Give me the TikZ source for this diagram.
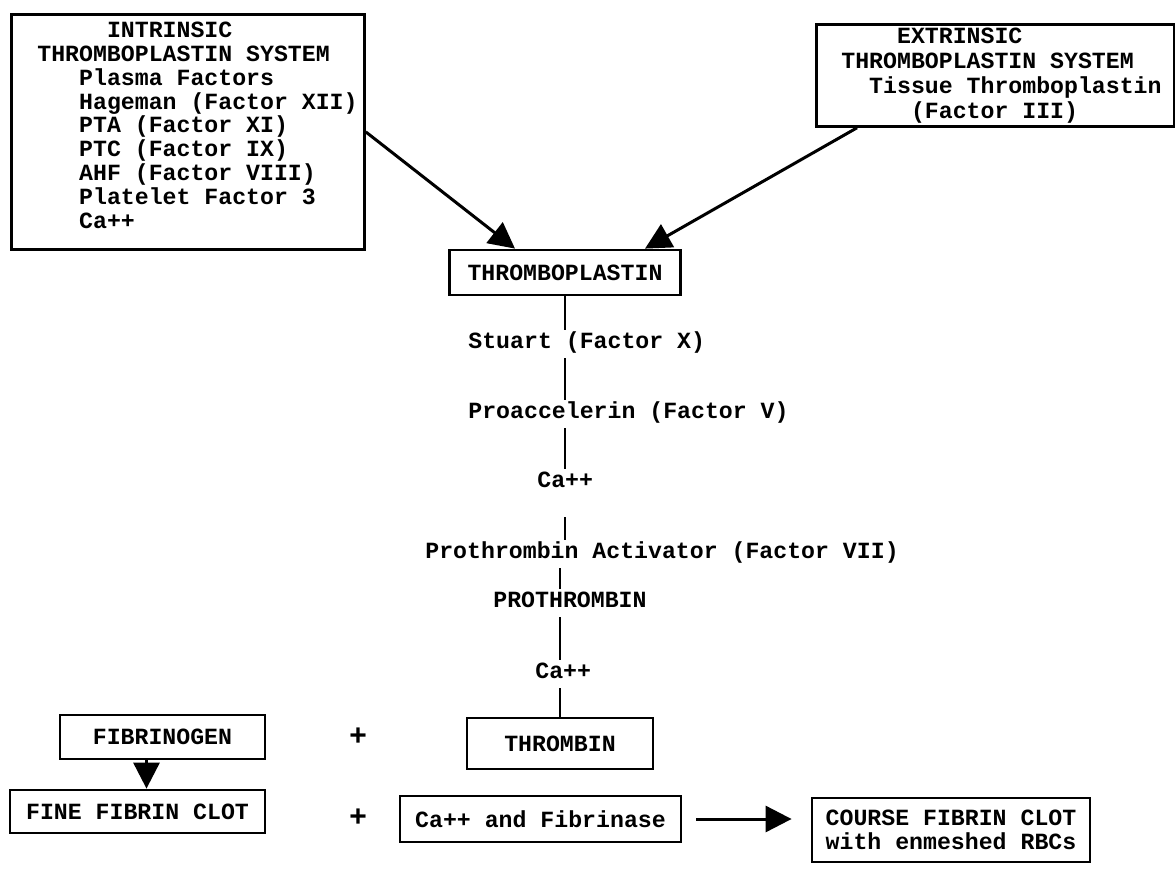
\documentclass[tikz,border=0pt]{standalone}
\usepackage{fontspec}
\setmonofont{Liberation Mono}
\usetikzlibrary{arrows.meta,positioning,calc}
% typewriter indent, in characters
\newcommand{\ind}[1]{\hspace*{\dimexpr #1\fontcharwd\font`M\relax}}
\tikzset{
  sysbox/.style={draw,line width=1.4pt,align=left,inner ysep=0pt,
                 execute at begin node={\spaceskip=0pt\xspaceskip=0pt\relax}},
  stage/.style={draw,line width=1.4pt,align=center,inner sep=0pt},
  factor/.style={anchor=base west,inner sep=0pt,text height=9pt,text depth=3pt},
  link/.style={line width=1.2pt,shorten <=2pt},
  flow/.style={-{Triangle[length=#1,width=#1]},line width=1.5pt},
  flow/.default=13pt,
  plus/.style={font=\ttfamily\bfseries\fontsize{15pt}{15pt}\selectfont},
}
\begin{document}
\begin{tikzpicture}[x=0.5pt,y=-0.5pt,font=\ttfamily\bfseries\fontsize{11.6pt}{11.9pt}\selectfont]
  \useasboundingbox (0,0) rectangle (1175,869);

  % the two systems
  \node[sysbox,anchor=north west,text width=150.5pt,inner xsep=13pt,minimum height=117.5pt,text depth=102pt] (intr) at (10,13)
    {\ind{5}INTRINSIC\\THROMBOPLASTIN SYSTEM\\\ind{3}Plasma Factors\\\ind{3}Hageman~(Factor~XII)\\\ind{3}PTA (Factor XI)\\
     \ind{3}PTC (Factor IX)\\\ind{3}AHF (Factor VIII)\\\ind{3}Platelet Factor 3\\\ind{3}Ca++};
  \node[sysbox,anchor=north west,text width=154pt,inner xsep=12.5pt,minimum height=51pt,
        font=\ttfamily\bfseries\fontsize{11.6pt}{12.5pt}\selectfont] (extr) at (815,23)
    {\ind{4}EXTRINSIC\\THROMBOPLASTIN SYSTEM\\\ind{2}Tissue~Thromboplastin\\\ind{5}(Factor III)};

  \node[stage,minimum width=115.5pt,minimum height=22.5pt] (tp) at (565,272.5) {THROMBOPLASTIN};
  \draw[flow] (intr.east) -- ([xshift=-25pt]tp.north);
  \draw[flow] ([xshift=21pt]extr.south west) -- ([xshift=40pt]tp.north);

  % cascade
  \node[factor] (stuart) at (468,348) {Stuart (Factor X)};
  \node[factor] (proacc) at (468,418) {Proaccelerin (Factor V)};
  \node[factor] (ca1)    at (537,487) {Ca++};
  \node[factor] (activ)  at (425,558) {Prothrombin Activator (Factor VII)};
  \node[factor] (prothr) at (493,607) {PROTHROMBIN};
  \node[factor] (ca2)    at (535,678) {Ca++};
  \node[stage,minimum width=93pt,minimum height=25.5pt] (thromb) at (560,743.5) {THROMBIN};

  \draw[link,shorten <=0pt] (tp.south) -- (tp.south |- stuart.north);
  \draw[link] (tp.south |- stuart.south) -- (tp.south |- proacc.north);
  \draw[link] (tp.south |- proacc.south) -- (tp.south |- ca1.north);
  \draw[link,shorten <=12pt] (tp.south |- ca1.south) -- (tp.south |- activ.north);
  \draw[link] (thromb.north |- activ.south) -- (thromb.north |- prothr.north);
  \draw[link] (thromb.north |- prothr.south) -- (thromb.north |- ca2.north);
  \draw[link] (thromb.north |- ca2.south) -- (thromb.north);

  % clot formation
  \node[stage,minimum width=102.5pt,minimum height=22pt] (fib)  at (162.5,737) {FIBRINOGEN};
  \node[stage,minimum width=127.5pt,minimum height=21.5pt] (fine) at (137.5,811.5) {FINE FIBRIN CLOT};
  \node[plus] (plus1) at (358,737) {+};
  \node[plus] (plus2) at (358,818) {+};
  \node[stage,minimum width=140.5pt,minimum height=23pt] (cafib) at (540.5,819) {Ca++ and Fibrinase};
  \node[stage,minimum width=139pt,minimum height=32pt] (course) at (951,830) {COURSE FIBRIN CLOT\\with enmeshed RBCs};

  \draw[flow] ([xshift=-8pt]fib.south) -- ([xshift=-8pt]fib.south |- fine.north);
  \draw[flow,shorten <=7pt,shorten >=9.5pt] (cafib.east) -- (cafib.east -| course.west);
\end{tikzpicture}
\end{document}
